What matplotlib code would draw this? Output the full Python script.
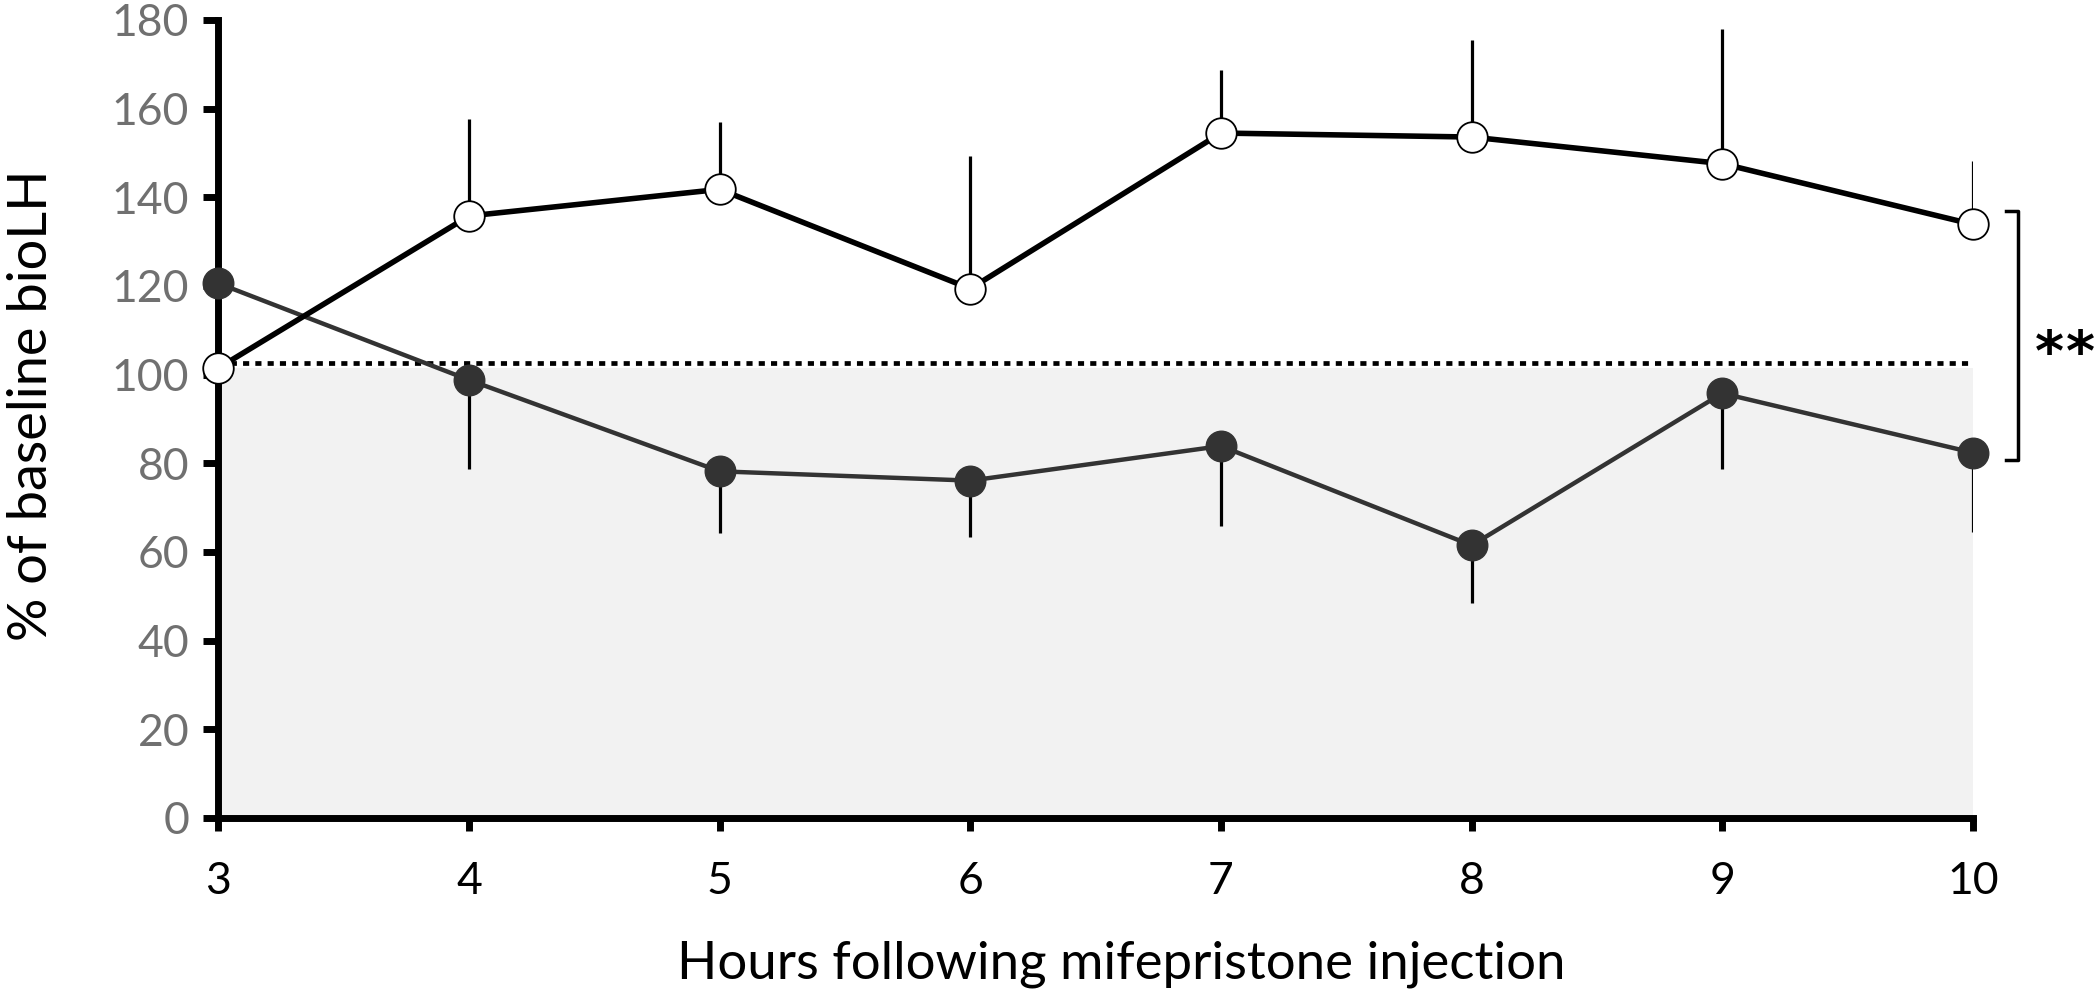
import numpy as np
import matplotlib
matplotlib.use('Agg')
import matplotlib.pyplot as plt

plt.rcParams['font.family'] = ['Lato', 'DejaVu Sans']

# hours after injection
hours = [3, 4, 5, 6, 7, 8, 9, 10]

# open circles (upper series), SEM drawn upward only
open_mean = [101.5, 135.8, 141.8, 119.4, 154.5, 153.6, 147.6, 133.9]
open_sem = [0, 21.8, 15.2, 30.0, 14.3, 21.9, 30.3, 14.3]

# filled circles (lower series), SEM drawn downward only
closed_mean = [120.6, 98.8, 78.2, 76.1, 83.9, 61.5, 95.8, 82.4]
closed_sem = [0, 20.0, 14.0, 12.8, 18.1, 13.0, 17.0, 17.9]

baseline = 102.7
yticks = [0, 20, 40, 60, 80, 100, 120, 140, 160, 180]

fig = plt.figure(figsize=(21, 10), dpi=100)
ax = fig.add_axes([0.104, 0.182, 0.8355, 0.798])

hx = np.array(hours)
om = np.array(open_mean)
cm = np.array(closed_mean)

# shaded region below baseline
ax.fill_between(hx, 0, 101.6, color='#f2f2f2', zorder=0, lw=0)
ax.plot([hx[0], hx[-1]], [baseline, baseline], color='black', lw=3.4,
        linestyle=(0, (1.3, 1.3)), zorder=1)

# error bars, one sided, no caps
ax.vlines(hx, om, om + np.array(open_sem), color='black', lw=2.3, zorder=2)
ax.vlines(hx, cm - np.array(closed_sem), cm, color='black', lw=2.3, zorder=2)

ax.plot(hx, cm, '-o', color='#333333', lw=3.2, ms=22, mfc='#333333',
        mec='#333333', zorder=5, clip_on=False)
ax.plot(hx, om, '-o', color='black', lw=4.0, ms=22, mfc='white',
        mec='black', mew=1.3, zorder=6, clip_on=False)

ax.set_xlim(3, 10)
ax.set_ylim(0, 180)
ax.set_yticks(yticks)
ax.set_xticks(hours)

for s in ['top', 'right']:
    ax.spines[s].set_visible(False)
ax.spines['left'].set_linewidth(5)
ax.spines['bottom'].set_linewidth(5)
ax.tick_params(axis='y', direction='out', length=11, width=5, pad=10,
               labelsize=32, labelcolor='#707070')
ax.tick_params(axis='x', direction='out', length=9, width=5, pad=22,
               labelsize=32, labelcolor='black')

ax.set_ylabel('% of baseline bioLH', fontsize=39, labelpad=40)
ax.yaxis.label.set_y(0.517)
ax.set_xlabel('Hours following mifepristone injection', fontsize=38,
              labelpad=28)
ax.xaxis.label.set_x(0.5145)

# significance bracket
bx, btop, bbot = 10.18, 136.9, 80.8
ax.plot([10.13, bx, bx, 10.13], [btop, btop, bbot, bbot], color='black',
        lw=2.5, clip_on=False)
for sx in [10.305, 10.43]:
    ax.text(sx, 104.5, '*', fontsize=40, fontweight='bold',
            family='DejaVu Sans', ha='center', va='center', clip_on=False)

fig.savefig('out.png', dpi=100)
